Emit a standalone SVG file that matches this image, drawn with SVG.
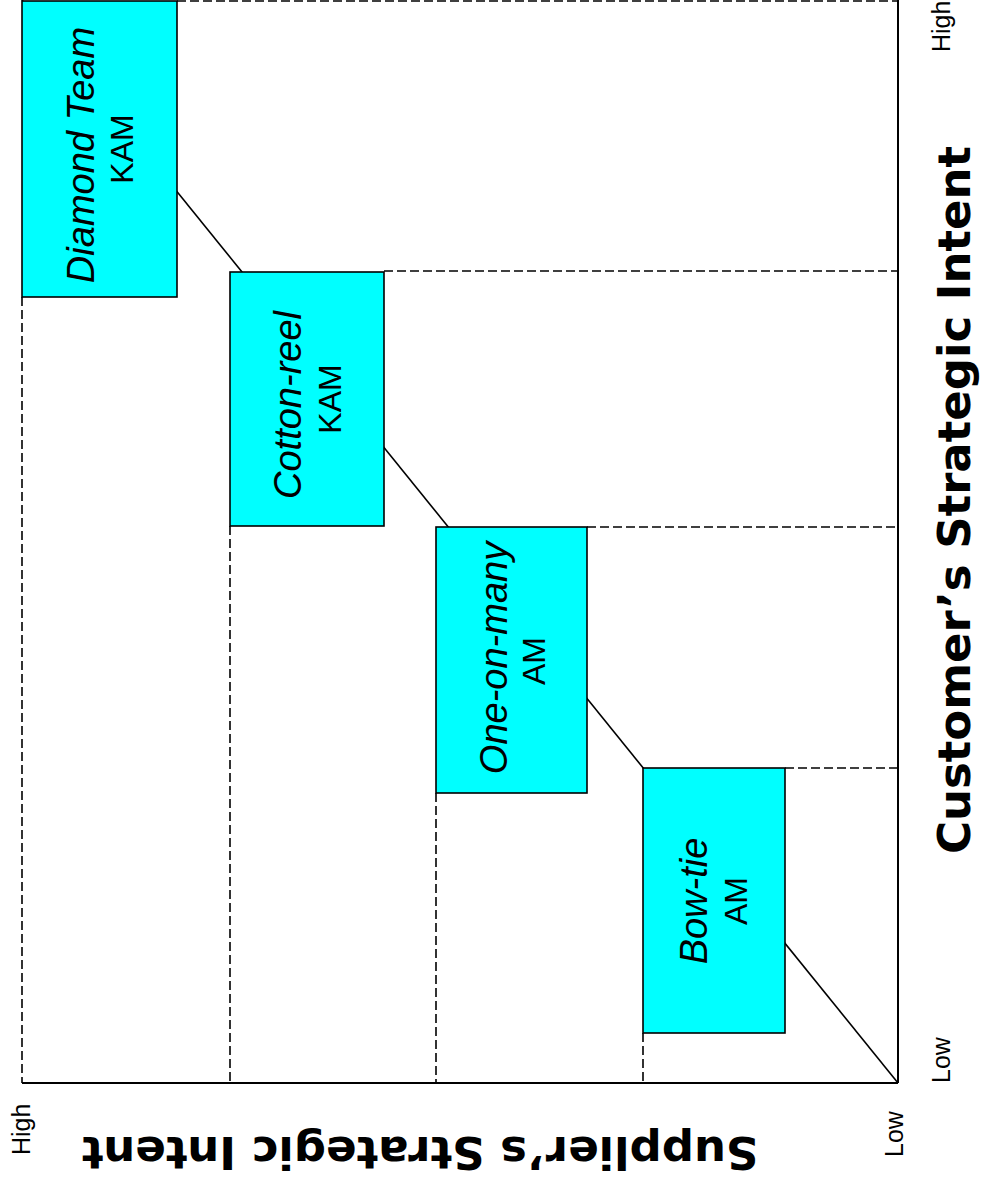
<svg xmlns="http://www.w3.org/2000/svg" width="984" height="1191" viewBox="0 0 984 1191">
  <style>
    .axis { stroke: #000; stroke-width: 2; fill: none; }
    .grid { stroke: #000; stroke-width: 1.6; stroke-dasharray: 9 4; fill: none; }
    .trend { stroke: #000; stroke-width: 1.6; fill: none; }
    .box { fill: #00FFFF; stroke: #000; stroke-width: 1.6; }
    .t1 { font-family: "Liberation Sans", Arial, sans-serif; font-style: italic; font-size: 38px; fill: #000; text-anchor: middle; }
    .t2 { font-family: "Liberation Sans", Arial, sans-serif; font-size: 32px; fill: #000; text-anchor: middle; }
    .title { font-family: "DejaVu Sans", Verdana, sans-serif; font-weight: bold; font-size: 45px; fill: #000; text-anchor: middle; }
    .tick { font-family: "Liberation Sans", Arial, sans-serif; font-size: 25px; fill: #000; }
  </style>

  <rect x="0" y="0" width="984" height="1191" fill="#fff"/>

  <!-- quadrant guides and axes -->
  <g id="connectors">
    <line class="grid" x1="177" y1="1" x2="898" y2="1"/>
    <line class="grid" x1="384" y1="271" x2="898" y2="271"/>
    <line class="grid" x1="587" y1="527" x2="898" y2="527"/>
    <line class="grid" x1="785" y1="768" x2="898" y2="768"/>
    <line class="grid" x1="22" y1="297" x2="22" y2="1083"/>
    <line class="grid" x1="230" y1="526" x2="230" y2="1083"/>
    <line class="grid" x1="436" y1="793" x2="436" y2="1083"/>
    <line class="grid" x1="643" y1="1033" x2="643" y2="1083"/>
    <line class="trend" x1="22" y1="0" x2="898" y2="1083"/>
    <line class="axis" x1="22" y1="1083" x2="898" y2="1083"/>
    <line class="axis" x1="898" y1="0" x2="898" y2="1083"/>
  </g>

  <g id="diamond-team">
    <rect class="box" x="22" y="1" width="155" height="296"/>
    <text class="t1" transform="translate(94,155) rotate(-90)">Diamond Team</text>
    <text class="t2" transform="translate(133,149) rotate(-90)">KAM</text>
  </g>

  <g id="cotton-reel">
    <rect class="box" x="230" y="272" width="154" height="254"/>
    <text class="t1" transform="translate(301,405) rotate(-90)">Cotton-reel</text>
    <text class="t2" transform="translate(341,399) rotate(-90)">KAM</text>
  </g>

  <g id="one-on-many">
    <rect class="box" x="436" y="527" width="151" height="266"/>
    <text class="t1" transform="translate(507,658) rotate(-90)">One-on-many</text>
    <text class="t2" transform="translate(545,661) rotate(-90)">AM</text>
  </g>

  <g id="bow-tie">
    <rect class="box" x="643" y="768" width="142" height="265"/>
    <text class="t1" transform="translate(707,901) rotate(-90)">Bow-tie</text>
    <text class="t2" transform="translate(747,901) rotate(-90)">AM</text>
  </g>

  <g id="customer-axis">
    <text class="title" transform="translate(970,500) rotate(-90)">Customer’s Strategic Intent</text>
    <text class="tick" transform="translate(950,52) rotate(-90)">High</text>
    <text class="tick" transform="translate(950,1083) rotate(-90)">Low</text>
  </g>

  <g id="supplier-axis">
    <text class="title" transform="translate(420,1137) rotate(180)">Supplier’s Strategic Intent</text>
    <text class="tick" transform="translate(30,1155) rotate(-90)">High</text>
    <text class="tick" transform="translate(903,1157) rotate(-90)">Low</text>
  </g>
</svg>
